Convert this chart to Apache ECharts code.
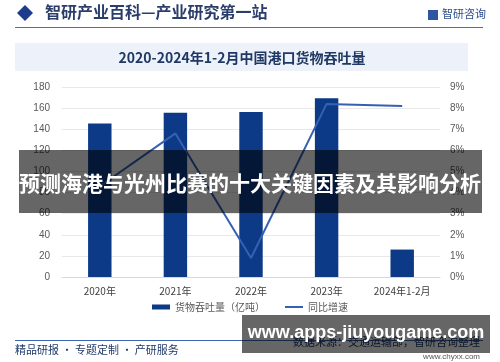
<!DOCTYPE html>
<html><head><meta charset="utf-8">
<script src="https://cdn.jsdelivr.net/npm/echarts@6/dist/echarts.min.js"></script>
<style>html,body{margin:0;padding:0;background:#fff}#c{width:500px;height:362px}</style>
</head><body><div id="c"></div>
<script>
const categories = ['2020年','2021年','2022年','2023年','2024年1-2月'];
const throughput = [145.5, 155.6, 156.2, 169.3, 26];
const growth = [4.3, 6.8, 0.9, 8.2, 8.1];
const leftTicks = {min:0, max:180, interval:20};
const rightTicks = {min:0, max:9, interval:1};
const FONT = '"Noto Sans CJK SC", "Liberation Sans", sans-serif';

const chart = echarts.init(document.getElementById('c'), null, {renderer:'canvas'});
chart.setOption({
  animation:false,
  textStyle:{fontFamily:FONT},
  grid:{left:62, right:60, top:87, bottom:85, containLabel:false},
  legend:{
    bottom:45, left:'center', itemWidth:18, itemHeight:5, itemGap:20,
    textStyle:{fontSize:10, color:'#595959', fontFamily:FONT},
    data:[{name:'货物吞吐量（亿吨）', icon:'rect'}, {name:'同比增速', icon:'path://M0 0H18V2H0Z'}]
  },
  xAxis:{
    type:'category', data:categories,
    axisLine:{lineStyle:{color:'#d9d9d9'}},
    axisTick:{show:false},
    axisLabel:{color:'#404040', fontSize:10, margin:9, fontFamily:FONT}
  },
  yAxis:[
    {type:'value', min:leftTicks.min, max:leftTicks.max, interval:leftTicks.interval,
     axisLine:{show:false}, axisTick:{show:false},
     axisLabel:{color:'#595959', fontSize:10, margin:12, fontFamily:'"Liberation Sans", sans-serif'},
     splitLine:{lineStyle:{color:'#e8e8e8'}}},
    {type:'value', min:rightTicks.min, max:rightTicks.max, interval:rightTicks.interval,
     axisLine:{show:false}, axisTick:{show:false},
     axisLabel:{color:'#595959', fontSize:10, margin:10, formatter:'{value}%', fontFamily:'"Liberation Sans", sans-serif'},
     splitLine:{show:false}}
  ],
  series:[
    {name:'货物吞吐量（亿吨）', type:'bar', data:throughput, barWidth:'31%',
     itemStyle:{color:'#0d3a87'}},
    {name:'同比增速', type:'line', yAxisIndex:1, data:growth, symbol:'none',
     lineStyle:{color:'#3561b5', width:2}, itemStyle:{color:'#3561b5'}}
  ],
  graphic:[
    {type:'polygon', shape:{points:[[17,13],[25,5],[33,13],[25,21]]}, style:{fill:'#1f3c8c'}},
    {type:'text', left:45, top:4, style:{text:'智研产业百科—产业研究第一站', font:'bold 16px "Noto Sans CJK SC"', fill:'#2b3e6b'}},
    {type:'rect', shape:{x:428, y:10, width:10, height:10}, style:{fill:'#2f55a0'}},
    {type:'text', left:442, top:8, style:{text:'智研咨询', font:'11px "Noto Sans CJK SC"', fill:'#2f4f8f'}},
    {type:'line', shape:{x1:15, y1:27.5, x2:483, y2:27.5}, style:{stroke:'#4a6cb0', lineWidth:1}},
    {type:'rect', shape:{x:15, y:43, width:453, height:28}, style:{fill:'#edf2fa'}},
    {type:'text', x:242, y:58, style:{text:'2020-2024年1-2月中国港口货物吞吐量', font:'bold 14px "Noto Sans CJK SC"', fill:'#1f3864', align:'center', verticalAlign:'middle'}},
    {type:'line', shape:{x1:15, y1:340.5, x2:483, y2:340.5}, style:{stroke:'#3c64b0', lineWidth:1}},
    {type:'text', left:15, top:344, style:{text:'精品研报 · 专题定制 · 产研服务', font:'11px "Noto Sans CJK SC"', fill:'#1f3a6b'}},
    {type:'text', x:480, y:342, style:{text:'数据来源：交通运输部，智研咨询整理', font:'11px "Noto Sans CJK SC"', fill:'#1f3a6b', align:'right', verticalAlign:'middle'}},
    {type:'text', x:480, y:357, style:{text:'www.chyxx.com', font:'8px "Liberation Sans"', fill:'#555', align:'right', verticalAlign:'middle'}},
    {type:'rect', z:100, shape:{x:19, y:150, width:463, height:63}, style:{fill:'rgba(0,0,0,0.6)'}},
    {type:'text', z:101, x:250, y:183, style:{text:'预测海港与光州比赛的十大关键因素及其影响分析', font:'bold 21px "Noto Sans CJK SC"', fill:'#fff', align:'center', verticalAlign:'middle'}},
    {type:'rect', z:100, shape:{x:242, y:315, width:248, height:38}, style:{fill:'rgba(0,0,0,0.6)'}},
    {type:'text', z:101, x:366, y:333, style:{text:'www.apps-jiuyougame.com', font:'bold 18px "Liberation Sans"', fill:'#fff', align:'center', verticalAlign:'middle'}}
  ]
});
</script></body></html>
